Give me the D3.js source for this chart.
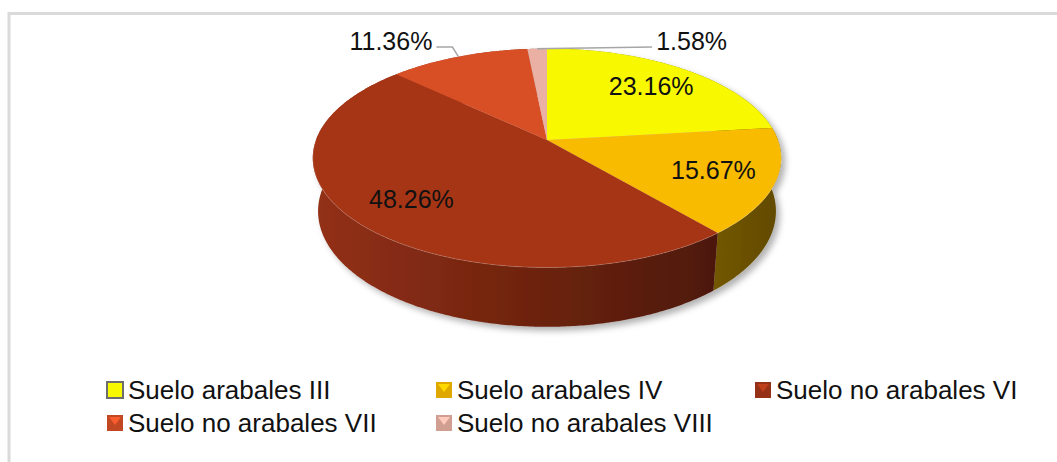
<!DOCTYPE html>
<html>
<head>
<meta charset="utf-8">
<script src="https://cdn.jsdelivr.net/npm/d3@7"></script>
<style>
  html, body { margin: 0; padding: 0; background: #fff; }
  svg { display: block; }
  text { font-family: "Liberation Sans", Arial, sans-serif; fill: #111; }
</style>
</head>
<body>
<svg id="chart" width="1057" height="462"></svg>
<script>
// chart data
const categories = ["Suelo arabales III", "Suelo arabales IV", "Suelo no arabales VI", "Suelo no arabales VII", "Suelo no arabales VIII"];
const values = [23.16, 15.67, 48.26, 11.36, 1.58];
const valueLabels = ["23.16%", "15.67%", "48.26%", "11.36%", "1.58%"];
const colors = ["#f8f800", "#f8bb00", "#a63618", "#d85027", "#e9b0a3"];
const outside = [false, false, false, true, true];  // labels drawn with leader lines

const svg = d3.select("#chart");
const defs = svg.append("defs");

// frame
svg.append("rect")
    .attr("x", 9).attr("y", 13.5).attr("width", 1100).attr("height", 500)
    .attr("fill", "none").attr("stroke", "#dadada").attr("stroke-width", 3);

// 3d projection of the pie
const cx = 547, cy = 140, k = 231;
const tilt = 27.45 * Math.PI / 180, dist = 5.38, depth = 0.262;
const sa = Math.sin(tilt), ca = Math.cos(tilt);
const proj = (theta, r, h) => {
    const u = r * Math.sin(theta), v = r * Math.cos(theta);
    const yp = v * sa + h * ca, zp = v * ca - h * sa;
    const s = 1 / (1 + zp / dist);
    return [cx + k * u * s, cy - k * yp * s];
};

const arcs = d3.pie().sort(null).value(d => d)(values);
const line = d3.line();

const rim = (a0, a1, h) => {
    const n = Math.max(2, Math.ceil((a1 - a0) / 0.01));
    return d3.range(n + 1).map(i => proj(a0 + (a1 - a0) * i / n, 1, h));
};

const xLeft = proj(3 * Math.PI / 2, 1, 0)[0], xRight = proj(Math.PI / 2, 1, 0)[0];

// shadow
const f = defs.append("filter").attr("id", "shadow")
    .attr("x", "-10%").attr("y", "-10%").attr("width", "120%").attr("height", "130%");
f.append("feDropShadow").attr("dx", 4).attr("dy", 4).attr("stdDeviation", 3)
    .attr("flood-color", "#000").attr("flood-opacity", 0.3);

const pieG = svg.append("g").attr("filter", "url(#shadow)");

// side gradients
arcs.forEach((a, i) => {
    const g = defs.append("linearGradient").attr("id", "side" + i)
        .attr("gradientUnits", "userSpaceOnUse")
        .attr("x1", xLeft).attr("x2", xRight).attr("y1", 0).attr("y2", 0);
    g.append("stop").attr("offset", 0).attr("stop-color", d3.color(colors[i]).darker(0.35));
    g.append("stop").attr("offset", 1).attr("stop-color", d3.color(colors[i]).darker(2.6));
});

// walls, back ones first
const order = d3.range(arcs.length).sort((a, b) =>
    Math.cos((arcs[a].startAngle + arcs[a].endAngle) / 2) - Math.cos((arcs[b].startAngle + arcs[b].endAngle) / 2));
order.reverse();
order.forEach(i => {
    const a = arcs[i];
    const pts = rim(a.startAngle, a.endAngle, 0).concat(rim(a.startAngle, a.endAngle, -depth).reverse());
    pieG.append("path").attr("d", line(pts) + "Z").attr("fill", `url(#side${i})`);
});

// top faces
arcs.forEach((a, i) => {
    const pts = [proj(0, 0, 0)].concat(rim(a.startAngle, a.endAngle, 0));
    pieG.append("path").attr("d", line(pts) + "Z").attr("fill", colors[i]);
});

// rim highlight on the front
svg.append("path")
    .attr("d", line(rim(Math.PI / 2, 3 * Math.PI / 2, 0)))
    .attr("fill", "none").attr("stroke", "#ffffff").attr("stroke-opacity", 0.18).attr("stroke-width", 1);

// data labels
const labelY = 50;
arcs.forEach((a, i) => {
    const mid = (a.startAngle + a.endAngle) / 2;
    if (!outside[i]) {
        const p = proj(mid, 0.74, 0);
        svg.append("text").attr("x", p[0]).attr("y", p[1])
            .attr("text-anchor", "middle").attr("dominant-baseline", "central")
            .attr("font-size", 25).text(valueLabels[i]);
    } else {
        const p = proj(mid, 1, 0);
        let pts, tx, anchor;
        if (Math.sin(mid) < -0.2) {
            pts = [p, [p[0] - 6, labelY - 3], [p[0] - 22, labelY - 3]];
            tx = p[0] - 26; anchor = "end";
        } else {
            pts = [p, [p[0] + 115, labelY - 3]];
            tx = p[0] + 119; anchor = "start";
        }
        svg.append("path").attr("d", line(pts)).attr("fill", "none")
            .attr("stroke", "#a6a6a6").attr("stroke-width", 1.5);
        svg.append("text").attr("x", tx).attr("y", labelY)
            .attr("text-anchor", anchor).attr("font-size", 25).text(valueLabels[i]);
    }
});

// legend
const colX = [106, 435, 754];
const rowY = [390, 423];
categories.forEach((c, i) => {
    const x = colX[i % 3], y = rowY[Math.floor(i / 3)];
    const g = svg.append("g").attr("transform", `translate(${x},${y})`);
    if (i === 0) {
        g.append("rect").attr("x", 1).attr("y", -8).attr("width", 16).attr("height", 16)
            .attr("fill", colors[i]).attr("stroke", "#6e6e6e").attr("stroke-width", 2);
    } else {
        g.append("rect").attr("x", 1).attr("y", -8).attr("width", 16).attr("height", 16)
            .attr("fill", d3.color(colors[i]).darker(0.3));
        g.append("path").attr("d", "M3,-6L15,-6L9,2Z").attr("fill", d3.color(colors[i]).brighter(0.4));
    }
    g.append("text").attr("x", 22).attr("y", 0).attr("dominant-baseline", "central")
        .attr("font-size", 26).text(c);
});
</script>
</body>
</html>
